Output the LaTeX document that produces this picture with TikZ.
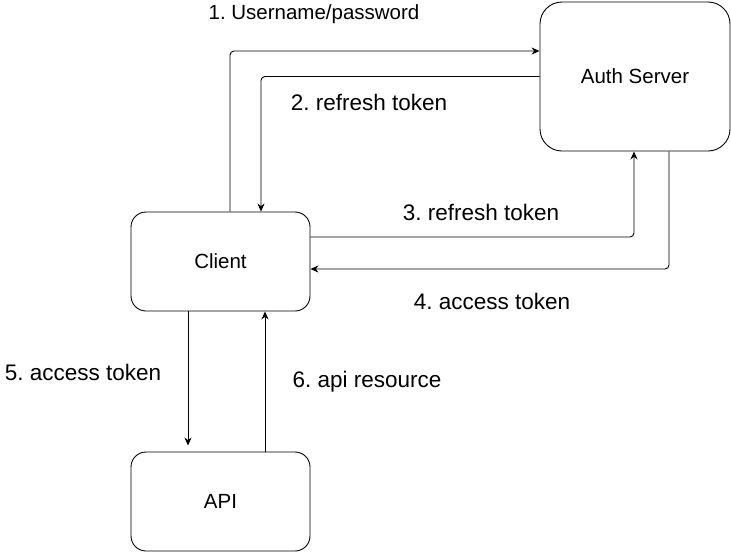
\documentclass[tikz,border=0pt]{standalone}
\usepackage{fontspec}
\setmainfont{Liberation Sans}
\usetikzlibrary{arrows.meta,positioning}
\frenchspacing

\newcommand{\lblfont}{\fontsize{22.5}{27}\selectfont}
\newcommand{\boxfont}{\fontsize{20.5}{24}\selectfont}

\begin{document}
\begin{tikzpicture}[x=1pt,y=-1pt,on grid,
    box/.style={draw,rounded corners=15pt,line width=0.9pt,minimum width=179pt,minimum height=99pt,font=\boxfont},
    conn/.style={draw,line width=0.9pt,rounded corners=4pt,-{Stealth[length=8pt,width=7pt]}},
    lbl/.style={inner sep=0pt,font=\lblfont}]
  \useasboundingbox (0,0) rectangle (731,552);
  \node[box] (client) at (220.5,261.5) {Client};
  \node[box] (api) [below=240pt of client] {API};
  \node[box,rounded corners=22pt,minimum width=190pt,minimum height=149pt]
    (auth) [above right=185pt and 414.5pt of client] {Auth Server};
  % connectors
  \draw[conn] ([xshift=9.5pt]client.north) |- ([yshift=25.5pt]auth.west);
  \draw[conn] (auth.west) -| ([xshift=40.5pt]client.north);
  \draw[conn] ([yshift=24.5pt]client.east) -| ([xshift=-1pt]auth.south);
  \draw[conn] ([xshift=34pt]auth.south) |- ([yshift=-7.5pt]client.east);
  \draw[conn,shorten >=6pt] ([xshift=-32.5pt]client.south) -- ([xshift=-32.5pt]api.north);
  \draw[conn] ([xshift=44.5pt]api.north) -- ([xshift=44.5pt]client.south);
  % labels
  \node[lbl,font=\boxfont] (l1) at (314,14) {1. Username/password};
  \node[lbl] (l2) at (369,102) {2. refresh token};
  \node[lbl] (l3) at (481,212) {3. refresh token};
  \node[lbl] (l4) at (492,301) {4. access token};
  \node[lbl] (l5) at (83,372) {5. access token};
  \node[lbl] (l6) at (367,382) {6. api resource};
\end{tikzpicture}
\end{document}
